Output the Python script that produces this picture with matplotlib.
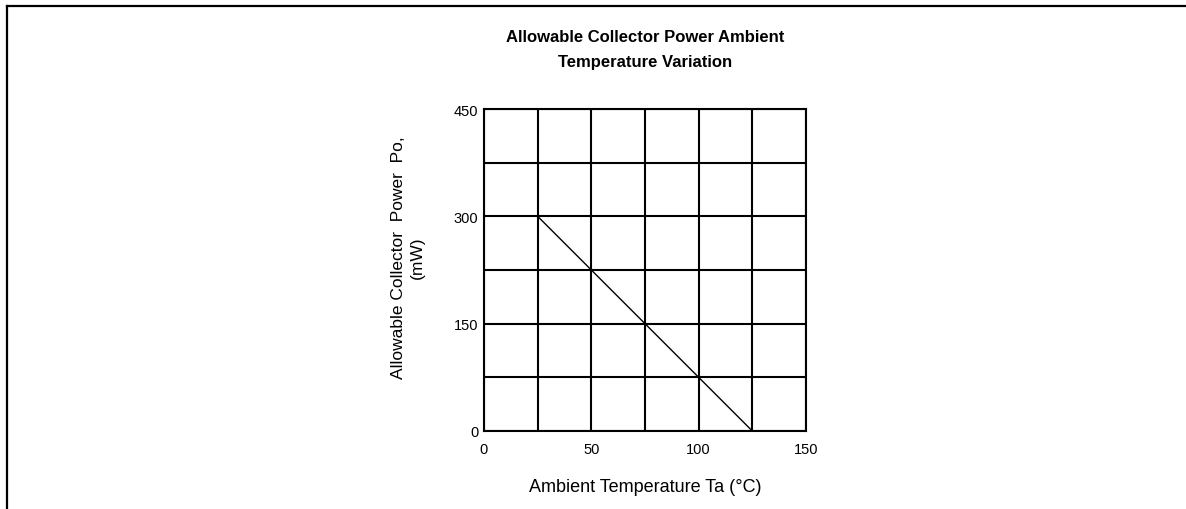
import matplotlib.pyplot as plt
from matplotlib.lines import Line2D

plt.rcParams['font.family'] = ['Liberation Sans', 'DejaVu Sans']

# derating line: ambient temperature (degC) vs allowable collector power (mW)
temp_c = [25, 125]
power_mw = [300, 0]

x_ticks = [0, 50, 100, 150]
y_ticks = [0, 150, 300, 450]
x_grid = [25, 75, 125]
y_grid = [75, 225, 375]

fig = plt.figure(figsize=(11.86, 5.10), dpi=100)
ax = fig.add_axes([484 / 1186, 78 / 510, 322 / 1186, 322 / 510])

ax.plot(temp_c, power_mw, color='black', linewidth=1.0)

ax.set_xlim(0, 150)
ax.set_ylim(0, 450)
ax.set_xticks(x_ticks)
ax.set_yticks(y_ticks)
ax.set_xticks(x_grid, minor=True)
ax.set_yticks(y_grid, minor=True)
ax.grid(True, which='both', color='black', linewidth=1.5)
ax.tick_params(which='both', length=0, labelsize=10.5)
ax.tick_params(axis='x', pad=8)
ax.tick_params(axis='y', pad=4)
for s in ax.spines.values():
    s.set_linewidth(1.5)

# titles and labels
fig.text(645 / 1186, 1 - 38 / 510, 'Allowable Collector Power Ambient',
         ha='center', va='center', fontsize=12, fontweight='bold')
fig.text(645 / 1186, 1 - 62 / 510, 'Temperature Variation',
         ha='center', va='center', fontsize=12, fontweight='bold')
fig.text(408 / 1186, 1 - 258 / 510, 'Allowable Collector  Power  Po,\n(mW)',
         ha='center', va='center', rotation=90, fontsize=12.5,
         multialignment='center', linespacing=1.35)
fig.text(645 / 1186, 1 - 487 / 510, 'Ambient Temperature Ta (°C)',
         ha='center', va='center', fontsize=13)

# page border (top and left)
fig.add_artist(Line2D([7 / 1186, 1], [1 - 7 / 510, 1 - 7 / 510],
                      transform=fig.transFigure, color='black', linewidth=1.6))
fig.add_artist(Line2D([7 / 1186, 7 / 1186], [0, 1 - 7 / 510],
                      transform=fig.transFigure, color='black', linewidth=1.6))

fig.savefig('out.png', dpi=100)
